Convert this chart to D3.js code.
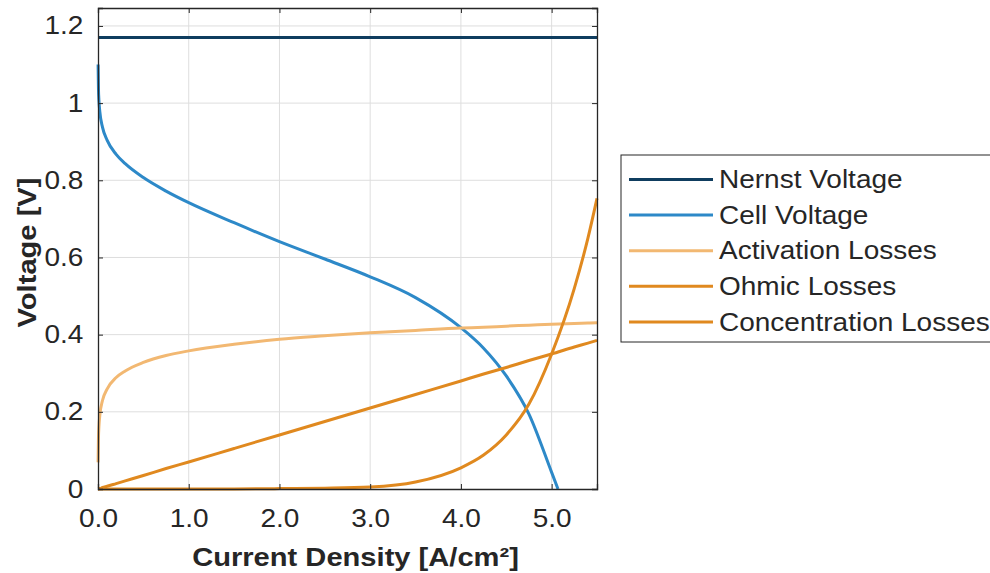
<!DOCTYPE html>
<html>
<head>
<meta charset="utf-8">
<script src="https://cdn.jsdelivr.net/npm/d3@7"></script>
<style>
  body { margin: 0; background: #fff; }
  svg { font-family: "Liberation Sans", Arial, sans-serif; }
</style>
</head>
<body>
<svg id="chart" width="990" height="573"></svg>
<script>
// series
var seriesNames = ['Nernst Voltage', 'Cell Voltage', 'Activation Losses', 'Ohmic Losses', 'Concentration Losses'];
var seriesColors = ['#0f3d5f', '#2d89c8', '#f2b872', '#e0891f', '#e0891f'];

var nernstCurrent = [0, 5.5];
var nernstVoltage = [1.17, 1.17];

var cellCurrent = [0.001, 0.005, 0.01, 0.02, 0.05, 0.1, 0.2, 0.3, 0.5, 0.75, 1.0, 1.5, 2.0, 2.5, 3.0, 3.5, 4.0, 4.25, 4.5, 4.75, 5.0, 5.07];
var cellVoltage = [1.10, 1.038, 1.008, 0.978, 0.937, 0.904, 0.867, 0.843, 0.807, 0.772, 0.742, 0.690, 0.641, 0.596, 0.550, 0.496, 0.418, 0.365, 0.293, 0.194, 0.043, 0];

var lossCurrent = [0.001, 0.005, 0.01, 0.02, 0.05, 0.1, 0.2, 0.3, 0.5, 0.75, 1.0, 1.5, 2.0, 2.5, 3.0, 3.5, 4.0, 4.25, 4.5, 4.75, 5.0, 5.25, 5.4, 5.5];
var activationLoss = [0.069, 0.132, 0.161, 0.191, 0.230, 0.259, 0.289, 0.306, 0.328, 0.346, 0.358, 0.375, 0.388, 0.397, 0.405, 0.411, 0.417, 0.419, 0.422, 0.4245, 0.427, 0.429, 0.430, 0.431];
var ohmicLoss = [0, 0, 0.001, 0.001, 0.004, 0.007, 0.014, 0.021, 0.035, 0.053, 0.07, 0.105, 0.14, 0.175, 0.21, 0.245, 0.28, 0.298, 0.315, 0.333, 0.35, 0.368, 0.378, 0.385];
var concentrationLoss = [0, 0, 0, 0, 0, 0, 0, 0, 0, 0, 0, 0, 0.001, 0.002, 0.005, 0.018, 0.055, 0.088, 0.14, 0.22, 0.35, 0.52, 0.65, 0.753];

var xTicks = [0, 1, 2, 3, 4, 5];
var yTicks = [0, 0.2, 0.4, 0.6, 0.8, 1, 1.2];

var svg = d3.select('#chart');
var mLeft = 98, mRight = 597, mTop = 8, mBottom = 489;
var stretch = 'scale(1.12,1)';

var x = d3.scaleLinear().domain([0, 5.5]).range([mLeft, mRight]);
var y = d3.scaleLinear().domain([0, 1.2465]).range([mBottom, mTop]);

// grid
var grid = svg.append('g');
grid.selectAll('.gx').data(xTicks.slice(1)).enter().append('line')
    .attr('x1', function (d) { return x(d); }).attr('x2', function (d) { return x(d); })
    .attr('y1', mTop).attr('y2', mBottom)
    .attr('stroke', '#dedede').attr('stroke-width', 1);
grid.selectAll('.gy').data(yTicks.slice(1)).enter().append('line')
    .attr('y1', function (d) { return y(d); }).attr('y2', function (d) { return y(d); })
    .attr('x1', mLeft).attr('x2', mRight)
    .attr('stroke', '#dedede').attr('stroke-width', 1);

// lines
var line = d3.line()
    .x(function (d) { return x(d[0]); })
    .y(function (d) { return y(d[1]); })
    .curve(d3.curveMonotoneX);

var series = [
    d3.zip(nernstCurrent, nernstVoltage),
    d3.zip(cellCurrent, cellVoltage),
    d3.zip(lossCurrent, activationLoss),
    d3.zip(lossCurrent, ohmicLoss),
    d3.zip(lossCurrent, concentrationLoss)
];

svg.append('g').selectAll('path')
    .data(series)
    .enter()
    .append('path')
    .attr('d', line)
    .attr('fill', 'none')
    .attr('stroke', function (d, i) { return seriesColors[i]; })
    .attr('stroke-width', 3);

// axes (ticks inward, box on)
var fmtX = d3.format('.1f');
var fmtY = d3.format('~g');

var xAxis = svg.append('g').attr('transform', 'translate(0,' + mBottom + ')')
    .call(d3.axisBottom(x).tickValues(xTicks).tickFormat(fmtX).tickSize(-5).tickPadding(20));
var yAxis = svg.append('g').attr('transform', 'translate(' + mLeft + ',0)')
    .call(d3.axisLeft(y).tickValues(yTicks).tickFormat(fmtY).tickSize(-5).tickPadding(13));
svg.append('g').attr('transform', 'translate(0,' + mTop + ')')
    .call(d3.axisTop(x).tickValues(xTicks).tickFormat('').tickSize(-5));
svg.append('g').attr('transform', 'translate(' + mRight + ',0)')
    .call(d3.axisRight(y).tickValues(yTicks).tickFormat('').tickSize(-5));

svg.selectAll('g').attr('font-family', null).attr('font-size', null);
svg.selectAll('.domain').attr('stroke', '#262626').attr('stroke-width', 1.3);
svg.selectAll('.tick line').attr('stroke', '#262626');
svg.selectAll('.tick text')
    .attr('font-size', 25).attr('fill', '#262626')
    .attr('transform', stretch);

// axis titles
svg.append('g').attr('transform', 'translate(' + ((mLeft + mRight) / 2 + 8) + ',566)')
    .append('text')
    .attr('transform', stretch)
    .attr('text-anchor', 'middle')
    .attr('font-size', 26).attr('font-weight', 'bold').attr('fill', '#262626')
    .text('Current Density [A/cm²]');
svg.append('g').attr('transform', 'translate(36,' + ((mTop + mBottom) / 2 + 4) + ') rotate(-90)')
    .append('text')
    .attr('transform', stretch)
    .attr('text-anchor', 'middle')
    .attr('font-size', 26).attr('font-weight', 'bold').attr('fill', '#262626')
    .text('Voltage [V]');

// legend
var legend = svg.append('g').attr('transform', 'translate(621,155)');
legend.append('rect')
    .attr('width', 380).attr('height', 187)
    .attr('fill', '#fff').attr('stroke', '#262626').attr('stroke-width', 1);
var rows = legend.selectAll('.row').data(seriesNames).enter().append('g')
    .attr('transform', function (d, i) { return 'translate(0,' + (24.5 + i * 35.6) + ')'; });
rows.append('line')
    .attr('x1', 8).attr('x2', 92)
    .attr('stroke', function (d, i) { return seriesColors[i]; })
    .attr('stroke-width', 3);
rows.append('g').attr('transform', 'translate(98,0)')
    .append('text')
    .attr('transform', stretch)
    .attr('dy', '0.35em')
    .attr('font-size', 25).attr('fill', '#262626')
    .text(function (d) { return d; });
</script>
</body>
</html>
